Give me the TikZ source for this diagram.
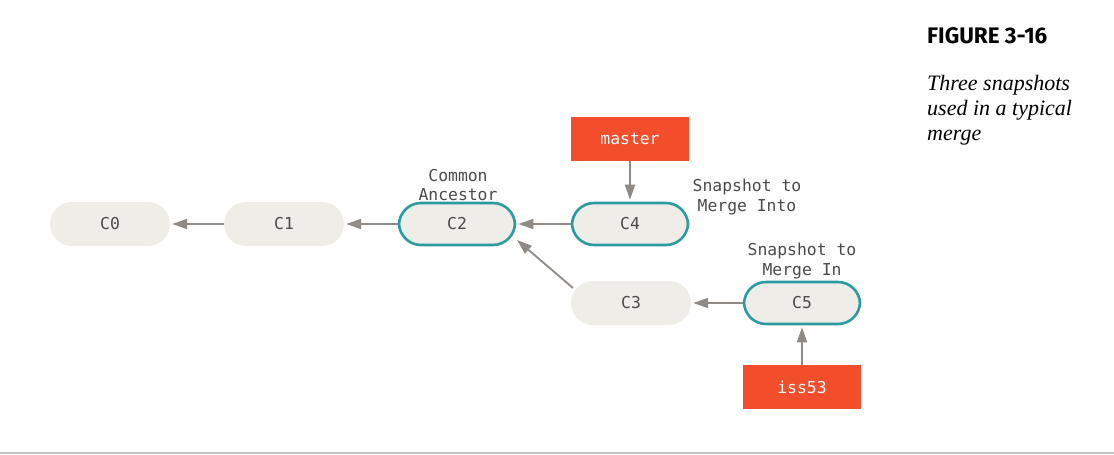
\documentclass[tikz,border=0pt]{standalone}
\usepackage{fontspec}
\setmonofont{DejaVu Sans Mono}
\newfontfamily\figfont{Fira Sans}
\newfontfamily\capfont{Liberation Serif}
\usetikzlibrary{arrows.meta}
\definecolor{pillfill}{HTML}{EEEDE7}
\definecolor{tealb}{HTML}{2C9AA0}
\definecolor{gitred}{HTML}{F24E2B}
\definecolor{arrowgray}{HTML}{8F8A85}
\definecolor{txtgray}{HTML}{4A4A4A}
\definecolor{rulegray}{HTML}{C2C2C2}
\tikzset{
  commit/.style={rectangle, rounded corners=22pt, fill=pillfill, minimum width=120pt, minimum height=44pt, inner sep=0pt, font=\ttfamily\fontsize{16.4}{19}\selectfont, text=txtgray},
  snap/.style={commit, draw=tealb, line width=2.6pt, minimum width=116pt, minimum height=42pt},
  branch/.style={rectangle, fill=gitred, minimum width=118pt, minimum height=44pt, inner sep=0pt, font=\ttfamily\fontsize{16.4}{19}\selectfont, text=white},
  lbl/.style={align=center, font=\ttfamily\fontsize{16.4}{19.5}\selectfont, text=txtgray},
  conn/.style={draw=arrowgray, line width=1.8pt, -{Triangle[length=15pt,width=10pt]}, shorten >=2pt}
}
\begin{document}
\begin{tikzpicture}[x=1pt,y=-1pt]
\useasboundingbox (0,0) rectangle (1114,455);
\node[commit] (c0) at (110,224) {C0};
\node[commit] (c1) at (284,224) {C1};
\node[snap] (c2) at (457,224) {C2};
\node[snap] (c4) at (630,224) {C4};
\node[commit] (c3) at (631,303) {C3};
\node[snap] (c5) at (802,303) {C5};
\node[branch] (master) at (630,139) {master};
\node[branch] (iss) at (802,387) {iss53};
\node[lbl] (ca) at (458,185) {Common\\Ancestor};
\node[lbl] (sinto) at (747,197) {Snapshot to\\Merge Into};
\node[lbl] (sin) at (802,261) {Snapshot to\\Merge In};
\coordinate (c3a) at (573,288);
\coordinate (c2b) at (517,240);
\draw[conn] (c1) -- (c0);
\draw[conn] (c2) -- (c1);
\draw[conn] (c4) -- (c2);
\draw[conn, shorten >=0pt] (c3a) -- (c2b);
\draw[conn] (c5) -- (c3);
\draw[conn] (master) -- (c4);
\draw[conn] (iss) -- (c5);
\node[anchor=base west, inner sep=0pt, font=\figfont\bfseries\fontsize{22.5}{26}\selectfont, text=black] (fig) at (927,43) {FIGURE 3-16};
\node[anchor=base west, inner sep=0pt, align=left, font=\capfont\itshape\fontsize{22}{25}\selectfont, text=black] (cap) at (927,140) {Three snapshots\\used in a typical\\merge};
\draw[rulegray, line width=1.5pt] (0,453) coordinate (r0) -- (1114,453) coordinate (r1);
\end{tikzpicture}
\end{document}
